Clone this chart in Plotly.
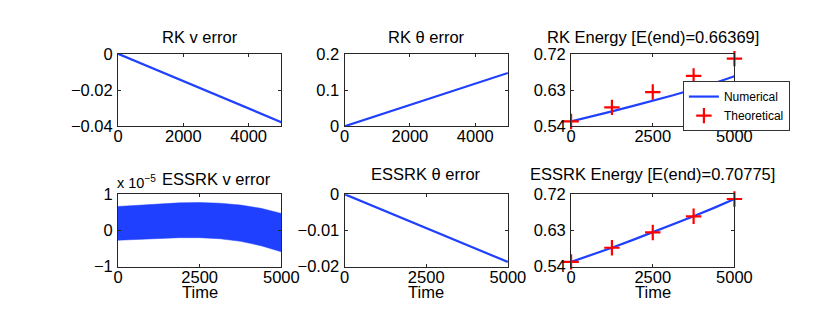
import plotly.graph_objects as go

W, H = 830, 312

# ---------------- data ----------------
t5 = [0, 1250, 2500, 3750, 5000]
t9 = [0, 625, 1250, 1875, 2500, 3125, 3750, 4375, 5000]

rk_v_err = [0, -0.0094, -0.0189, -0.0283, -0.0377]
rk_theta_err = [0, 0.0368, 0.0735, 0.1103, 0.147]
rk_energy_num = [0.552, 0.564, 0.577, 0.590, 0.603, 0.617, 0.632, 0.647, 0.664]
theory_energy = [0.552, 0.587, 0.625, 0.665, 0.708]

essrk_v_upper = [0.66e-5, 0.70e-5, 0.74e-5, 0.76e-5, 0.77e-5, 0.75e-5, 0.70e-5, 0.61e-5, 0.47e-5]
essrk_v_lower = [-0.27e-5, -0.24e-5, -0.21e-5, -0.20e-5, -0.20e-5, -0.23e-5, -0.30e-5, -0.42e-5, -0.59e-5]
essrk_theta_err = [0, -0.0047, -0.0094, -0.0140, -0.0187]
essrk_energy_num = [0.552, 0.569, 0.587, 0.606, 0.625, 0.645, 0.665, 0.686, 0.708]

titles = ["RK v error", "RK θ error", "RK Energy [E(end)=0.66369]",
          "ESSRK v error", "ESSRK θ error", "ESSRK Energy [E(end)=0.70775]"]

BLUE = "#2040ff"
RED = "#ff0000"
FONT = "Liberation Sans"

# panel boxes in pixels (x0, x1, ytop, ybottom)
cols = [(108, 276), (341, 509), (574, 742)]
rows = [(39, 116), (188, 265)]

fig = go.Figure()

def ax_name(i):
    return "" if i == 1 else str(i)

def add(tr, i):
    tr.xaxis = "x" + ax_name(i)
    tr.yaxis = "y" + ax_name(i)
    tr.cliponaxis = False
    fig.add_trace(tr)

line = dict(color=BLUE, width=2.2)
cross = dict(symbol="cross-thin", size=11, line=dict(color=RED, width=2.2), color=RED)
add(go.Scatter(x=t5, y=rk_v_err, mode="lines", line=line, showlegend=False), 1)
add(go.Scatter(x=t5, y=rk_theta_err, mode="lines", line=line, showlegend=False), 2)
add(go.Scatter(x=t9, y=rk_energy_num, mode="lines", line=line, name="Numerical"), 3)
add(go.Scatter(x=t5, y=theory_energy, mode="markers", name="Theoretical", marker=cross), 3)
add(go.Scatter(x=t9, y=essrk_v_lower, mode="lines", line=dict(color=BLUE, width=0.5), showlegend=False), 4)
add(go.Scatter(x=t9, y=essrk_v_upper, mode="lines", line=dict(color=BLUE, width=0.5),
               fill="tonexty", fillcolor=BLUE, showlegend=False), 4)
add(go.Scatter(x=t5, y=essrk_theta_err, mode="lines", line=line, showlegend=False), 5)
add(go.Scatter(x=t9, y=essrk_energy_num, mode="lines", line=line, showlegend=False), 6)
add(go.Scatter(x=t5, y=theory_energy, mode="markers", showlegend=False, marker=cross), 6)

yranges = [[-0.04, 0], [0, 0.2], [0.54, 0.72], [-1e-5, 1e-5], [-0.02, 0], [0.54, 0.72]]
yticks = [[-0.04, -0.02, 0], [0, 0.1, 0.2], [0.54, 0.63, 0.72],
          [-1e-5, 0, 1e-5], [-0.02, -0.01, 0], [0.54, 0.63, 0.72]]
yticktext = [["−0.04", "−0.02", "0"], ["0", "0.1", "0.2"], ["0.54", "0.63", "0.72"],
             ["−1", "0", "1"], ["−0.02", "−0.01", "0"], ["0.54", "0.63", "0.72"]]
xticks = [[0, 2000, 4000], [0, 2000, 4000], [0, 2500, 5000],
          [0, 2500, 5000], [0, 2500, 5000], [0, 2500, 5000]]

common = dict(showline=True, mirror="ticks", linecolor="#262626", linewidth=1,
              ticks="inside", ticklen=3, tickcolor="#262626", showgrid=False,
              zeroline=False, tickfont=dict(family=FONT, size=16.5, color="black"))

layout = {}
for i in range(6):
    r, c = divmod(i, 3)
    x0, x1 = cols[c]
    yt, yb = rows[r]
    n = ax_name(i + 1)
    layout["xaxis" + n] = dict(domain=[x0 / W, x1 / W], range=[0, 5000],
                               tickvals=xticks[i], ticktext=[str(v) for v in xticks[i]],
                               anchor="y" + n, ticklabelstandoff=-5, **common)
    layout["yaxis" + n] = dict(domain=[(H - yb) / H, (H - yt) / H], range=yranges[i],
                               tickvals=yticks[i], ticktext=yticktext[i],
                               anchor="x" + n, ticklabelstandoff=1, **common)

annotations = []
title_pos = [(192, 21), (425, 21), (658, 21), (209, 172), (425, 167), (658, 167)]
for txt, (px, py) in zip(titles, title_pos):
    annotations.append(dict(text=txt, x=px / W, y=(H - py) / H, xref="paper", yref="paper",
                            showarrow=False, xanchor="center", yanchor="middle",
                            font=dict(family=FONT, size=16.5, color="black")))
for c in range(3):
    cx = (cols[c][0] + cols[c][1]) / 2
    annotations.append(dict(text="Time", x=cx / W, y=(H - 292) / H, xref="paper", yref="paper",
                            showarrow=False, xanchor="center", yanchor="middle",
                            font=dict(family=FONT, size=16.5, color="black")))
annotations.append(dict(text="x 10<sup>−5</sup>", x=105 / W, y=(H - 175) / H, xref="paper",
                        yref="paper", showarrow=False, xanchor="left", yanchor="middle",
                        font=dict(family=FONT, size=14.5, color="black")))

fig.update_layout(
    width=W, height=H, margin=dict(l=0, r=0, t=0, b=0),
    paper_bgcolor="white", plot_bgcolor="white",
    annotations=annotations,
    legend=dict(x=689 / W, y=(H - 68) / H, xanchor="left", yanchor="top",
                bgcolor="white", bordercolor="#333333", borderwidth=1,
                font=dict(family=FONT, size=12, color="black"),
                itemwidth=30, tracegroupgap=0, traceorder="normal"),
    **layout,
)

fig.write_html("out.html")
